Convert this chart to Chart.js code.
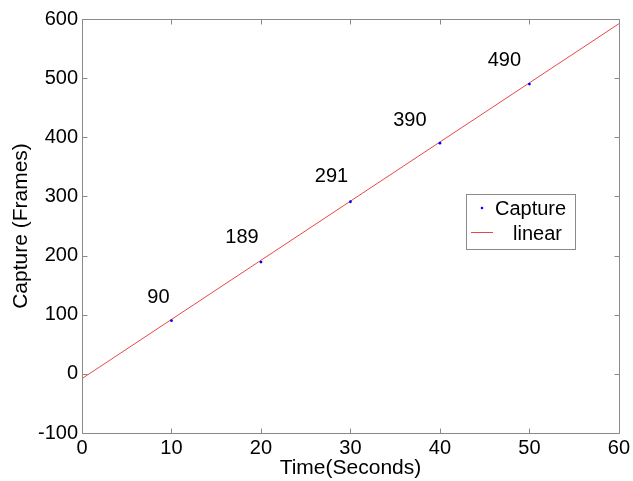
<!DOCTYPE html>
<html>
<head>
<meta charset="UTF-8">
<title>Capture vs Time</title>
<script src="https://cdn.jsdelivr.net/npm/chart.js@4/dist/chart.umd.min.js"></script>
<style>
  html, body { margin: 0; padding: 0; background: #fff; }
  #chart { display: block; }
</style>
</head>
<body>
<canvas id="chart" width="633" height="481"></canvas>
<script>
const timeSec = [10, 20, 30, 40, 50];
const captureFrames = [90, 189, 291, 390, 490];
const fitTime = [0, 60];
const fitFrames = [-8, 592];
const xTicks = [0, 10, 20, 30, 40, 50, 60];
const yTicks = [-100, 0, 100, 200, 300, 400, 500, 600];

// pixel nudges for the value labels above each point
const labelShift = [[-13, -23], [-19, -25], [-19, -25], [-30, -23], [-25, -24]];

const FONT = "'Liberation Sans', Arial, sans-serif";
const AXIS_GREY = "#8a8a8a";

const toPoints = (xs, ys) => xs.map((x, i) => ({ x, y: ys[i] }));

// box, inward ticks on all four sides
const boxPlugin = {
  id: "box",
  afterDatasetsDraw(chart) {
    const { ctx, chartArea: a, scales } = chart;
    const len = 5;
    ctx.save();
    ctx.strokeStyle = AXIS_GREY;
    ctx.lineWidth = 1;
    ctx.beginPath();
    const L = Math.round(a.left) + 0.5, R = Math.round(a.right) + 0.5;
    const T = Math.round(a.top) + 0.5, B = Math.round(a.bottom) + 0.5;
    ctx.rect(L, T, R - L, B - T);
    xTicks.forEach((v) => {
      const px = Math.round(scales.x.getPixelForValue(v)) + 0.5;
      ctx.moveTo(px, B); ctx.lineTo(px, B - len);
      ctx.moveTo(px, T); ctx.lineTo(px, T + len);
    });
    yTicks.forEach((v) => {
      const py = Math.round(scales.y.getPixelForValue(v)) + 0.5;
      ctx.moveTo(L, py); ctx.lineTo(L + len, py);
      ctx.moveTo(R, py); ctx.lineTo(R - len, py);
    });
    ctx.stroke();
    ctx.restore();
  },
};

const valueLabels = {
  id: "valueLabels",
  afterDatasetsDraw(chart) {
    const { ctx } = chart;
    const meta = chart.getDatasetMeta(0);
    ctx.save();
    ctx.font = "20px " + FONT;
    ctx.fillStyle = "#000";
    ctx.textAlign = "center";
    ctx.textBaseline = "middle";
    meta.data.forEach((pt, i) => {
      const [dx, dy] = labelShift[i];
      ctx.fillText(String(captureFrames[i]), pt.x + dx, pt.y + dy);
    });
    ctx.restore();
  },
};

const legendBox = {
  id: "legendBox",
  afterDraw(chart) {
    const { ctx } = chart;
    ctx.save();
    ctx.fillStyle = "#fff";
    ctx.fillRect(466, 194, 109, 55);
    ctx.strokeStyle = AXIS_GREY;
    ctx.lineWidth = 1;
    ctx.strokeRect(466.5, 194.5, 109, 55);
    ctx.fillStyle = "#0000ff";
    ctx.beginPath();
    ctx.arc(482, 208, 1.3, 0, Math.PI * 2);
    ctx.fill();
    ctx.strokeStyle = "rgb(235,70,70)";
    ctx.beginPath();
    ctx.moveTo(471, 232.5);
    ctx.lineTo(493, 232.5);
    ctx.stroke();
    ctx.font = "20px " + FONT;
    ctx.fillStyle = "#000";
    ctx.textBaseline = "middle";
    ctx.fillText(chart.data.datasets[0].label, 495, 209);
    ctx.fillText(chart.data.datasets[1].label, 513, 234);
    ctx.restore();
  },
};

new Chart(document.getElementById("chart"), {
  type: "scatter",
  data: {
    datasets: [
      {
        label: "Capture",
        data: toPoints(timeSec, captureFrames),
        backgroundColor: "#0000ff",
        borderColor: "#0000ff",
        pointRadius: 1.4,
        borderWidth: 0,
        order: 0,
      },
      {
        label: "linear",
        data: toPoints(fitTime, fitFrames),
        showLine: true,
        borderColor: "rgb(235,70,70)",
        borderWidth: 1,
        pointRadius: 0,
        order: 1,
      },
    ],
  },
  options: {
    responsive: false,
    animation: false,
    events: [],
    layout: { padding: { top: 19, right: 11, left: 0, bottom: 0 } },
    plugins: { legend: { display: false }, tooltip: { enabled: false } },
    scales: {
      x: {
        type: "linear",
        min: 0,
        max: 60,
        afterBuildTicks(scale) { scale.ticks = xTicks.map((v) => ({ value: v })); },
        afterFit(scale) { scale.height = 48; },
        grid: { display: false, drawTicks: false },
        border: { display: false },
        ticks: { color: "#000", font: { family: FONT, size: 20 }, padding: 3, maxRotation: 0, autoSkip: false },
        title: { display: true, text: "Time(Seconds)", color: "#000", font: { family: FONT, size: 21 }, padding: { top: 0, bottom: 0 } },
      },
      y: {
        type: "linear",
        min: -100,
        max: 600,
        afterBuildTicks(scale) { scale.ticks = yTicks.map((v) => ({ value: v })); },
        afterFit(scale) { scale.width = 82; },
        grid: { display: false, drawTicks: false },
        border: { display: false },
        ticks: { color: "#000", font: { family: FONT, size: 20 }, padding: 4, autoSkip: false },
        title: { display: true, text: "Capture (Frames)", color: "#000", font: { family: FONT, size: 21 }, padding: { top: 9, bottom: 0 } },
      },
    },
  },
  plugins: [boxPlugin, valueLabels, legendBox],
});
</script>
</body>
</html>
